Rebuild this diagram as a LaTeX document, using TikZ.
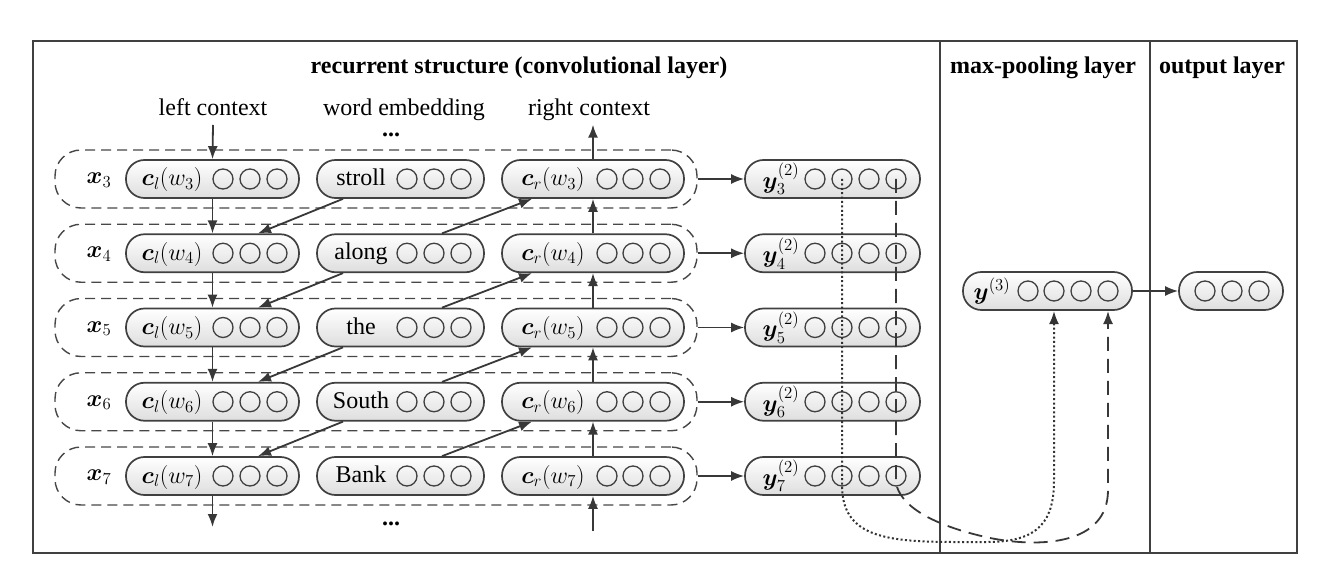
\documentclass[tikz,border=0pt]{standalone}
\usepackage{fix-cm}
\usepackage{amsmath,bm}
\usepackage[no-math]{fontspec}
\setmainfont{Liberation Serif}
\usetikzlibrary{arrows.meta}
\begin{document}
\begin{tikzpicture}[x=1pt,y=-1pt,
  font=\fontsize{24}{28}\selectfont,
  frame/.style={draw=black!75, line width=1.6pt},
  vbox/.style={rectangle, rounded corners=18.5pt, draw=black!75, line width=1.7pt,
    top color=white, bottom color=black!13, minimum height=38pt, inner sep=0pt},
  rowbox/.style={rectangle, rounded corners=26pt, draw=black!72, line width=1.4pt,
    dash pattern=on 10pt off 6pt, minimum height=58pt, minimum width=642pt, inner sep=0pt},
  unit/.style={draw=black!75, line width=1.3pt},
  arr/.style={draw=black!78, line width=1.8pt, -{Latex[length=13pt,width=10pt]}},
  lbl/.style={inner sep=0pt},
  ttl/.style={anchor=base, font=\fontsize{24}{28}\selectfont\bfseries},
  dotpath/.style={draw=black!80, line width=2pt, dash pattern=on 2pt off 2.4pt, -{Latex[length=13pt,width=10pt]}},
  dashpath/.style={draw=black!78, line width=1.8pt, dash pattern=on 14pt off 8pt, -{Latex[length=13pt,width=10pt]}}
]
\useasboundingbox (0,0) rectangle (1322,577);
% frame
\draw[frame] (33,41) rectangle (1297,553);
\draw[frame] (940,41) -- (940,553);
\draw[frame] (1150,41) -- (1150,553);
% titles
\node[ttl] (t1) at (519,74) {recurrent structure (convolutional layer)};
\node[ttl] (t2) at (1043,74) {max-pooling layer};
\node[ttl] (t3) at (1222,74) {output layer};
% context labels
\node[anchor=base] (lc) at (213,116) {left context};
\node[anchor=base, inner sep=0pt] (we) at (404,116) {word embedding};
\node[anchor=base] (rc) at (589,116) {right context};
\node[lbl, anchor=base] (dtop) at (391,137) {\textbf{...}};
\node[lbl, anchor=base] (dbot) at (391,525) {\textbf{...}};
% rows
\foreach \i/\w [count=\k from 0] in {3/stroll,4/along,5/the,6/South,7/Bank} {
  \pgfmathsetmacro\yy{179+74.25*\k}
  \node[rowbox] (row\i) at (376,\yy) {};
  \node[lbl] (xl\i) at (99,\yy+1) {$\bm{x}_{\i}$};
  % left context
  \node[vbox, minimum width=173pt] (cl\i) at (212.5,\yy) {};
  \node[lbl] (clt\i) at (172,\yy+1) {$\bm{c}_l(w_{\i})$};
  \foreach \cx in {223,250,277} \draw[unit] (\cx,\yy) circle (10pt);
  % word
  \node[vbox, minimum width=167pt] (w\i) at (400.5,\yy) {};
  \node[lbl, anchor=base] (wt\i) at (361,\yy+6.5) {\w};
  \foreach \cx in {407,434,461} \draw[unit] (\cx,\yy) circle (10pt);
  % right context
  \node[vbox, minimum width=182pt] (cr\i) at (593,\yy) {};
  \node[lbl] (crt\i) at (553,\yy+1) {$\bm{c}_r(w_{\i})$};
  \foreach \cx in {607,633,660} \draw[unit] (\cx,\yy) circle (10pt);
  % y2
  \node[vbox, minimum width=175pt] (y\i) at (832.5,\yy) {};
  \node[lbl] (yt\i) at (781,\yy) {$\bm{y}_{\i}^{(2)}$};
  \foreach \cx in {815,842,869,896} \draw[unit] (\cx,\yy) circle (10pt);
  \draw[arr] (row\i.east) -- (y\i.west);
}
% vertical arrows
\coordinate (clend) at (212.5,527);
\coordinate (crstart) at (593,531);
\coordinate (lcstart) at (213,125);
\draw[arr] (lcstart) -- (cl3.north);
\draw[arr] (cl7.south) -- (clend);
\draw[arr] (crstart) -- (cr7.south);
\draw[arr] (cr3.north) -- (cr3.north |- rc.south);
\foreach \i/\j in {3/4,4/5,5/6,6/7} {
  \draw[arr] (cl\i.south) -- (cl\j.north);
  \draw[arr] (cr\j.north) -- (cr\i.south);
  \draw[arr] ([xshift=-57.5pt]w\i.south) -- ([xshift=45.5pt]cl\j.north);
  \draw[arr] ([xshift=41.5pt]w\j.north) -- ([xshift=-61pt]cr\i.south);
}
% max pooling
\node[vbox, minimum width=169pt] (ymax) at (1047.5,291) {};
\node[lbl] (ymt) at (992,291) {$\bm{y}^{(3)}$};
\foreach \cx in {1028,1054,1081,1108} \draw[unit] (\cx,291) circle (10pt);
% output
\node[vbox, minimum width=104pt] (out) at (1231,291) {};
\foreach \cx in {1205,1232,1259} \draw[unit] (\cx,291) circle (10pt);
\draw[arr] (ymax.east) -- (out.west);
% pooling paths
\coordinate (p1s) at (842,179);
\coordinate (p2s) at (896,179);
\coordinate (p1e) at (1054,311);
\coordinate (p2e) at (1108,311);
\draw[dotpath] (p1s) -- (842,485) .. controls (842,545) and (900,542) .. (987,542)
  .. controls (1040,542) and (1054,520) .. (1054,480) -- (p1e);
\draw[dashpath] (p2s) -- (896,483) .. controls (900,505) and (930,525) .. (990,538)
  .. controls (1040,548) and (1108,545) .. (1108,490) -- (p2e);
\end{tikzpicture}
\end{document}
